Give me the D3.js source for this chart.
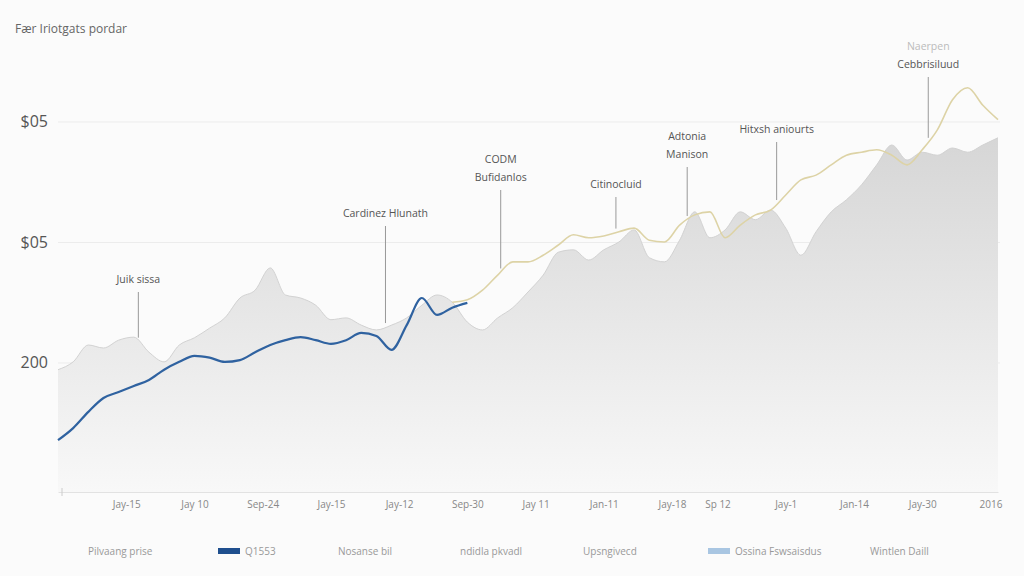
<!doctype html>
<html>
<head>
<meta charset="utf-8">
<title>Chart</title>
<script src="https://cdn.jsdelivr.net/npm/d3@7"></script>
<style>
  body { margin: 0; background: #fbfbfb; }
  text { font-family: "Open Sans", "Noto Sans", sans-serif; }
</style>
</head>
<body>
<svg width="1024" height="576"></svg>
<script>
// values
var areaValues = [188, 201, 229, 224, 237, 242, 217, 201, 229, 241, 257, 274, 307, 320, 357, 312,
  307, 295, 271, 274, 262, 254, 262, 274, 295, 312, 300, 267, 254, 274, 291, 317, 345, 383, 387,
  370, 387, 400, 420, 374, 367, 403, 450, 407, 420, 450, 437, 453, 423, 378, 417, 450, 470, 495,
  528, 561, 536, 549, 544, 556, 549, 561, 573];
var blueValues = [71, 91, 118, 141, 151, 161, 171, 188, 201, 211, 208, 201, 204, 217, 229, 237,
  242, 237, 231, 237, 249, 244, 221, 262, 307, 279, 291, 299];
var goldStart = 26;
var goldValues = [300, 304, 320, 345, 367, 367, 378, 395, 412, 407, 410, 417, 423, 403, 400, 428,
  445, 450, 407, 428, 445, 453, 478, 503, 511, 528, 544, 549, 553, 544, 528, 553, 586, 636, 656,
  627, 603];
var yTicks = [200, 400, 600];
var yTickLabels = ["200", "$05", "$05"];
var xTickIdx = [4.5, 9, 13.5, 18, 22.5, 27, 31.5, 36, 40.5, 43.5, 48, 52.5, 57, 61.5];
var xTickLabels = ["Jay-15", "Jay 10", "Sep-24", "Jay-15", "Jay-12", "Sep-30", "Jay 11", "Jan-11",
  "Jay-18", "Sp 12", "Jay-1", "Jan-14", "Jay-30", "2016"];
var notes = [
  { i: 5.3, lines: ["Juik sissa"], ty: 283, series: "area" },
  { i: 21.6, lines: ["Cardinez Hlunath"], ty: 217, series: "area" },
  { i: 29.2, lines: ["CODM", "Bufidanlos"], ty: 163, series: "gold" },
  { i: 36.8, lines: ["Citinocluid"], ty: 188, series: "gold" },
  { i: 41.5, lines: ["Adtonia", "Manison"], ty: 140, series: "gold" },
  { i: 47.4, lines: ["Hitxsh aniourts"], ty: 133, series: "gold" },
  { i: 57.4, lines: ["Naerpen", "Cebbrisiluud"], ty: 50, series: "gold" }
];
var legendItems = [
  { label: "Pilvaang prise", swatch: null },
  { label: "Q1553", swatch: "#1f4f8e" },
  { label: "Nosanse bil", swatch: null },
  { label: "ndidla pkvadl", swatch: null },
  { label: "Upsngivecd", swatch: null },
  { label: "Ossina Fswsaisdus", swatch: "#a9c6e2" },
  { label: "Wintlen Daill", swatch: null }
];
var legendX = [88, 218, 338, 460, 583, 708, 870];

var svg = d3.select("svg");
var x = d3.scaleLinear().domain([0, areaValues.length - 1]).range([58, 998]);
var y = d3.scaleLinear().domain([-15, 800]).range([492, 1]);

var defs = svg.append("defs");
var grad = defs.append("linearGradient").attr("id", "ag").attr("x1", 0).attr("x2", 0).attr("y1", 0).attr("y2", 1);
grad.append("stop").attr("offset", "0%").attr("stop-color", "#d6d6d6");
grad.append("stop").attr("offset", "100%").attr("stop-color", "#f8f8f8");

svg.append("text").attr("x", 15).attr("y", 33).attr("fill", "#666").attr("font-size", 12)
  .text("Fær Iriotgats pordar");

// grid + y labels
var yAxis = svg.append("g").attr("transform", "translate(58,0)")
  .call(d3.axisLeft(y).tickValues(yTicks).tickSize(-942)
    .tickFormat(function(d, i) { return yTickLabels[i]; }));
yAxis.select(".domain").remove();
yAxis.selectAll(".tick line").attr("stroke", "#ececec");
yAxis.selectAll(".tick text").attr("x", -10).attr("fill", "#555").attr("font-size", 16)
  .attr("font-family", "Liberation Sans Narrow, DejaVu Sans Condensed, sans-serif");

// area
var area = d3.area().x(function(d, i) { return x(i); }).y0(492).y1(function(d) { return y(d); })
  .curve(d3.curveMonotoneX);
svg.append("path").datum(areaValues).attr("d", area).attr("fill", "url(#ag)");
svg.append("path").datum(areaValues)
  .attr("d", d3.line().x(function(d, i) { return x(i); }).y(function(d) { return y(d); }).curve(d3.curveMonotoneX))
  .attr("fill", "none").attr("stroke", "#d2d2d2").attr("stroke-width", 1);

// x axis
var xAxis = svg.append("g").attr("transform", "translate(0,492)")
  .call(d3.axisBottom(x).tickValues(xTickIdx).tickSize(0)
    .tickFormat(function(d, i) { return xTickLabels[i]; }));
xAxis.select(".domain").attr("stroke", "#e2e2e2");
xAxis.selectAll(".tick text").attr("dy", 13).attr("fill", "#888").attr("font-size", 10)
  .attr("font-family", "Liberation Sans Narrow, DejaVu Sans Condensed, sans-serif");
svg.append("line").attr("x1", 62).attr("x2", 62).attr("y1", 488).attr("y2", 496).attr("stroke", "#ccc");

// lines
var line = d3.line().x(function(d) { return x(d[0]); }).y(function(d) { return y(d[1]); })
  .curve(d3.curveMonotoneX);
svg.append("path").datum(goldValues.map(function(v, k) { return [goldStart + k, v]; }))
  .attr("d", line).attr("fill", "none").attr("stroke", "#ddd3a6").attr("stroke-width", 1.6);
svg.append("path").datum(blueValues.map(function(v, k) { return [k, v]; }))
  .attr("d", line).attr("fill", "none").attr("stroke", "#2f62a0").attr("stroke-width", 2.2);

// annotations
function valueAt(arr, offset, i) {
  var k = i - offset, a = Math.floor(k), b = Math.min(a + 1, arr.length - 1);
  return arr[a] + (arr[b] - arr[a]) * (k - a);
}
notes.forEach(function(n) {
  var v = n.series === "gold" ? valueAt(goldValues, goldStart, n.i) : valueAt(areaValues, 0, n.i);
  var g = svg.append("g");
  n.lines.forEach(function(t, j) {
    g.append("text").attr("x", x(n.i)).attr("y", n.ty + j * 18).attr("text-anchor", "middle")
      .attr("fill", j === 0 && n.lines.length > 1 && n.ty < 60 ? "#bbb" : "#555").attr("font-size", 10.5).text(t);
  });
  g.append("line").attr("x1", x(n.i)).attr("x2", x(n.i))
    .attr("y1", n.ty + (n.lines.length - 1) * 18 + 9).attr("y2", y(v) - 4)
    .attr("stroke", "#999").attr("stroke-width", 1);
});

// legend
legendItems.forEach(function(d, i) {
  var g = svg.append("g").attr("transform", "translate(" + legendX[i] + ",551)");
  var tx = 0;
  if (d.swatch) {
    g.append("rect").attr("x", 0).attr("y", -3).attr("width", 22).attr("height", 6).attr("fill", d.swatch);
    tx = 27;
  }
  g.append("text").attr("x", tx).attr("y", 4).attr("fill", "#999").attr("font-size", 10)
    .attr("font-family", "Liberation Sans Narrow, DejaVu Sans Condensed, sans-serif").text(d.label);
});
</script>
</body>
</html>
